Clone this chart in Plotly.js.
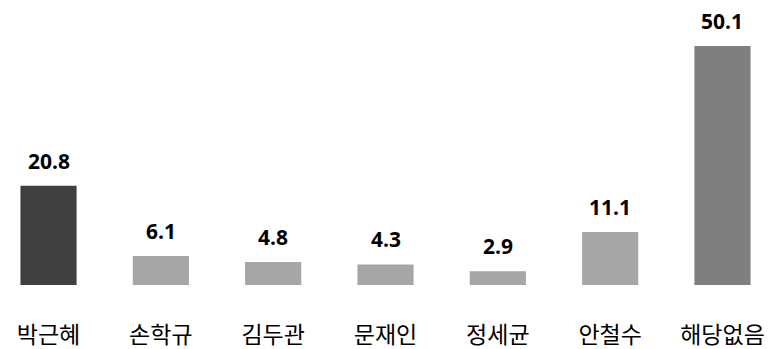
<!DOCTYPE html>
<html><head><meta charset="utf-8">
<script src="https://cdn.plot.ly/plotly-3.0.1.min.js"></script>
<style>html,body{margin:0;padding:0;background:#fff}</style>
</head><body><div id="chart" style="width:770px;height:349px"></div>
<script>
var categories = ["박근혜","손학규","김두관","문재인","정세균","안철수","해당없음"];
var values = [20.8, 6.1, 4.8, 4.3, 2.9, 11.1, 50.1];
var labels = ["20.8","6.1","4.8","4.3","2.9","11.1","50.1"];
var barColors = ["#404040","#a6a6a6","#a6a6a6","#a6a6a6","#a6a6a6","#a6a6a6","#7f7f7f"];

var trace = {
  type: "bar", x: categories, y: values, width: 0.5,
  marker: {color: barColors}, hoverinfo: "none"
};
var annotations = categories.map(function(c, i){
  return {x: c, y: values[i], text: "<b>" + labels[i] + "</b>", showarrow: false,
    yanchor: "bottom", yshift: 9,
    font: {family: "Open Sans, sans-serif", size: 21, color: "#000"}};
});
Plotly.newPlot("chart", [trace], {
  width: 770, height: 349,
  margin: {l: 0, r: 0, t: 0, b: 64},
  paper_bgcolor: "#fff", plot_bgcolor: "#fff",
  showlegend: false,
  bargap: 0.5,
  xaxis: {range: [-0.432, 6.423], showline: false, showgrid: false, zeroline: false,
    ticks: "", ticklabelstandoff: 34,
    tickfont: {family: "Noto Sans CJK KR, sans-serif", size: 23, color: "#000"}},
  yaxis: {range: [0, 59.75], visible: false, showgrid: false, zeroline: false},
  annotations: annotations
}, {displayModeBar: false, staticPlot: true});
</script></body></html>
